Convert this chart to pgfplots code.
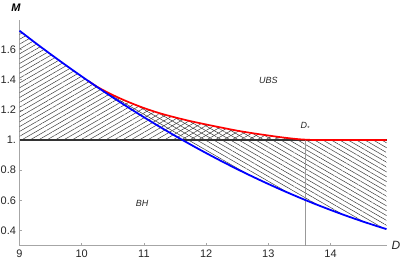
\documentclass[border=0pt]{standalone}
\usepackage{fontspec}
\setmainfont{Liberation Sans}
\usepackage{pgfplots}
\pgfplotsset{compat=1.18}
\usepgfplotslibrary{fillbetween}
\usetikzlibrary{patterns.meta,calc}
\definecolor{hatch}{RGB}{60,60,60}
\begin{document}
\begin{tikzpicture}
\begin{axis}[
  name=ax,
  scale only axis,
  width=367bp, height=225.7bp,
  xmin=9, xmax=14.9, ymin=0.3, ymax=1.795,
  axis lines*=left,
  axis line style={draw=gray!70, line width=0.6pt},
  tick style={gray!70, line width=0.5pt},
  tick align=inside,
  major tick length=2.5bp,
  xtick={9,10,11,12,13,14},
  xticklabels={9,10,11,12,13,14},
  ytick={0.4,0.6,0.8,1.0,1.2,1.4,1.6},
  yticklabels={0.4,0.6,0.8,1.,1.2,1.4,1.6},
  ticklabel style={font=\fontsize{11}{12}\selectfont, text=black!85},
  xticklabel style={yshift=-1bp},
  clip=false,
]
% upper envelope (blue up to 10.1, then red)
\addplot[draw=none, name path=upper] coordinates {
 (9,1.724) (9.25,1.6452) (9.5,1.5685) (9.75,1.4939) (10,1.4212) (10.1,1.393)
 (10.25,1.352) (10.5,1.298) (10.75,1.252) (11,1.212) (11.25,1.178) (11.5,1.150)
 (11.75,1.125) (12,1.103) (12.25,1.082) (12.5,1.062) (12.75,1.045) (13,1.030)
 (13.25,1.016) (13.5,1.005) (13.75,1.0) (14,1.0) (14.9,1.0)};
\addplot[draw=none, name path=one] coordinates {(9,1) (14.9,1)};
\addplot[draw=none, name path=redp] coordinates {
 (10.1,1.393)
 (10.25,1.352) (10.5,1.298) (10.75,1.252) (11,1.212) (11.25,1.178) (11.5,1.150)
 (11.75,1.125) (12,1.103) (12.25,1.082) (12.5,1.062) (12.75,1.045) (13,1.030)
 (13.25,1.016) (13.5,1.005) (13.75,1.0) (14,1.0) (14.9,1.0)};
\addplot[draw=none, name path=bluep] coordinates {
 (10.1,1.3928) (10.25,1.3506) (10.5,1.2821) (10.75,1.2156) (11,1.1511) (11.25,1.0887)
 (11.5,1.0283) (11.75,0.9700) (12,0.9137) (12.25,0.8594) (12.5,0.8072) (12.75,0.7570)
 (13,0.7089) (13.25,0.6628) (13.5,0.6187) (13.75,0.5767) (14,0.5368) (14.25,0.4988)
 (14.5,0.4629) (14.75,0.4291) (14.9,0.4098)};
\addplot[draw=none, pattern={Lines[angle=30, distance=4.2bp, line width=0.5pt]}, pattern color=hatch]
  fill between[of=upper and one];
\addplot[draw=none, pattern={Lines[angle=-30, distance=4.2bp, line width=0.5pt]}, pattern color=hatch]
  fill between[of=redp and bluep];
% reference lines
\addplot[black!80, line width=1.2pt] coordinates {(9,1) (14.9,1)};
\addplot[gray!80, line width=0.8pt] coordinates {(13.6,0.3) (13.6,1.0)};
% curves
\addplot[red, line width=1.7pt, smooth] coordinates {
 (10.1,1.393)
 (10.25,1.352) (10.5,1.298) (10.75,1.252) (11,1.212) (11.25,1.178) (11.5,1.150)
 (11.75,1.125) (12,1.103) (12.25,1.082) (12.5,1.062) (12.75,1.045) (13,1.030)
 (13.25,1.016) (13.5,1.005) (13.75,1.0) (14,1.0) (14.9,1.0)};
\addplot[blue, line width=1.8pt, smooth] coordinates {
 (9,1.724) (9.25,1.6452) (9.5,1.5685) (9.75,1.4939) (10,1.4212) (10.25,1.3506)
 (10.5,1.2821) (10.75,1.2156) (11,1.1511) (11.25,1.0887)
 (11.5,1.0283) (11.75,0.9700) (12,0.9137) (12.25,0.8594) (12.5,0.8072) (12.75,0.7570)
 (13,0.7089) (13.25,0.6628) (13.5,0.6187) (13.75,0.5767) (14,0.5368) (14.25,0.4988)
 (14.5,0.4629) (14.75,0.4291) (14.9,0.4098)};
% labels
\node[font=\fontsize{9}{10}\selectfont\itshape, text=black!85] at (axis cs:13.0,1.393) {UBS};
\node[font=\fontsize{9}{10}\selectfont\itshape, text=black!85] at (axis cs:13.59,1.09) {D\raisebox{-0.4ex}{\fontsize{6}{6}\selectfont *}};
\node[font=\fontsize{9}{10}\selectfont\itshape, text=black!85] at (axis cs:10.97,0.578) {BH};
\end{axis}
\node[font=\fontsize{11}{12}\selectfont\bfseries\itshape] at ($(ax.south west)+(-3.5bp,237.7bp)$) {M};
\node[font=\fontsize{12}{13}\selectfont\itshape, text=black!85] at ($(ax.south west)+(376.5bp,0.7bp)$) {D};
\pgfresetboundingbox
\path[use as bounding box] ($(ax.south west)+(-19.5bp,-18.3bp)$) rectangle ++(405bp,264bp);
\end{tikzpicture}
\end{document}
